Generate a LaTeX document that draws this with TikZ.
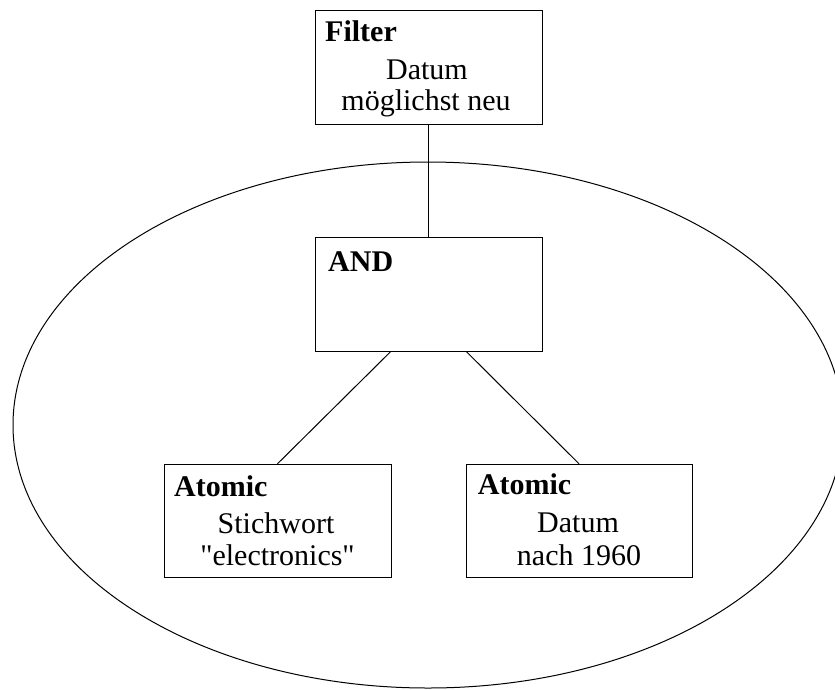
\documentclass[tikz,border=0pt]{standalone}
\usepackage{fontspec}
\setmainfont{Liberation Serif}
\usetikzlibrary{calc}
\begin{document}
\begin{tikzpicture}[x=1pt,y=-1pt,
  box/.style={draw, line width=1pt, rectangle, inner sep=0pt,
              minimum width=227pt, minimum height=113.5pt},
  head/.style={font=\fontsize{30}{36}\selectfont\bfseries, anchor=base west, inner sep=0pt},
  body/.style={font=\fontsize{30}{36}\selectfont, anchor=base, inner sep=0pt},
  link/.style={line width=1pt}]
\useasboundingbox (0,0) rectangle (835,689);
% scope of the AND subtree
\begin{scope}
  \clip (0,0) rectangle (835,689);
  \draw[link] (428,425) ellipse [x radius=415, y radius=263];
\end{scope}
% boxes
\node[box] (filter) at (428.5,67.5) {};
\node[box] (and)    at (428.5,294.5) {};
\node[box] (atomL)  at (277.5,521) {};
\node[box, minimum width=226pt] (atomR) at (579,521) {};
% connectors
\draw[link] (filter.south) -- (and.north);
\draw[link] ($(and.south west)!1/3!(and.south east)$) -- (atomL.north);
\draw[link] ($(and.south west)!2/3!(and.south east)$) -- (atomR.north);
% labels
\node[head] (filterT) at (325,41.7) {Filter};
\node[body] (filterA) at (427,79) {Datum};
\node[body] (filterB) at (426,110) {möglichst neu};
\node[head] (andT)    at (328,271) {AND};
\node[head] (atomLT)  at (174,496.7) {Atomic};
\node[body] (atomLA)  at (276,533) {Stichwort};
\node[body] (atomLB)  at (277.5,565) {\textquotedbl electronics\textquotedbl};
\node[head] (atomRT)  at (477.7,494) {Atomic};
\node[body] (atomRA)  at (578,532) {Datum};
\node[body] (atomRB)  at (579,565) {nach 1960};
\end{tikzpicture}
\end{document}
